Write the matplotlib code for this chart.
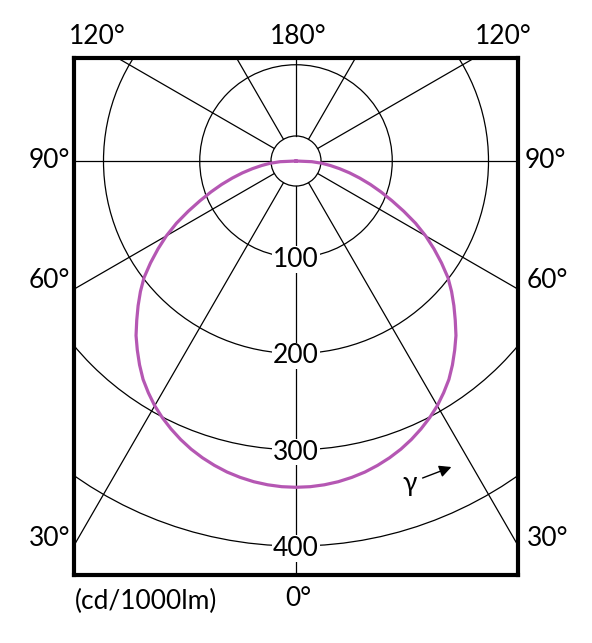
import numpy as np
import matplotlib.pyplot as plt
from matplotlib.patches import Circle

plt.rcParams['font.family'] = ['Lato', 'DejaVu Sans']

# luminous intensity distribution (cd/1000lm), gamma measured from nadir
gamma = [0, 2.5, 5, 7.5, 10, 12.5, 15, 17.5, 20, 22.5, 25, 27.5, 30, 32.5, 35, 37.5,
         40, 42.5, 45, 47.5, 50, 52.5, 55, 57.5, 60, 62.5, 65, 67.5, 70, 72.5, 75,
         77.5, 80, 82.5, 85, 87.5, 90]
intensity = [339, 338.7, 337.7, 336.1, 333.8, 331, 327.4, 323.3, 318.6, 313.2, 307.2,
             300.7, 293.6, 285.5, 277, 267, 256.5, 246, 234, 222.5, 211, 199, 184.5,
             170, 155.5, 140, 123.5, 108, 94, 81, 68.5, 57, 46, 36, 27, 16.5, 0]

rings = [100, 200, 300, 400]
ring_labels = ['100', '200', '300', '400']
spokes = [0, 30, 60, 90, 120, 150, 180]

W, H = 592, 643
px_per_cd = 0.9625
hole = 26    # radius of centre circle, cd

def fpos(x, y):   # pixel -> figure fraction
    return x / W, 1 - y / H

fig = plt.figure(figsize=(W / 100, H / 100), dpi=100)
ax = fig.add_axes([74 / W, 1 - 575 / H, 444 / W, 517 / H])
ax.set_xlim(-222 / px_per_cd, 222 / px_per_cd)
ax.set_ylim(-414 / px_per_cd, 103 / px_per_cd)
ax.set_xticks([])
ax.set_yticks([])
for s in ax.spines.values():
    s.set_linewidth(3)
    s.set_color('black')

# grid circles
ax.add_patch(Circle((0, 0), hole, fill=False, lw=0.9, color='black'))
for r in rings:
    ax.add_patch(Circle((0, 0), r, fill=False, lw=0.9, color='black'))

# radial lines
for a in spokes:
    t = np.radians(a)
    for side in ([-1, 1] if 0 < a < 180 else [1]):
        rr = np.array([hole, 900])
        ax.plot(side * rr * np.sin(t), -rr * np.cos(t), color='black', lw=0.9)

# ring labels on the 0 deg line
for r, lab in zip(rings, ring_labels):
    ax.text(0, -r - 2.5, lab, ha='center', va='center', fontsize=19, zorder=5,
            bbox=dict(facecolor='white', edgecolor='none', pad=0.5))

# the curve, mirrored on both sides
g = np.radians(gamma)
I = np.array(intensity, dtype=float)
xl = -I * np.sin(g)
yl = -I * np.cos(g)
x = np.concatenate([xl[::-1], -xl[1:]])
y = np.concatenate([yl[::-1], yl[1:]])
ax.plot(x, y, color='#b557b3', lw=2.3, zorder=4, solid_joinstyle='round')

# angle labels around the frame
fs = 19
fig.text(*fpos(97, 36), '120°', ha='center', va='center', fontsize=fs)
fig.text(*fpos(298, 36), '180°', ha='center', va='center', fontsize=fs)
fig.text(*fpos(503, 36), '120°', ha='center', va='center', fontsize=fs)
fig.text(*fpos(70, 160), '90°', ha='right', va='center', fontsize=fs)
fig.text(*fpos(525, 160), '90°', ha='left', va='center', fontsize=fs)
fig.text(*fpos(70, 280), '60°', ha='right', va='center', fontsize=fs)
fig.text(*fpos(527, 280), '60°', ha='left', va='center', fontsize=fs)
fig.text(*fpos(70, 538), '30°', ha='right', va='center', fontsize=fs)
fig.text(*fpos(527, 538), '30°', ha='left', va='center', fontsize=fs)
fig.text(*fpos(298, 599), '0°', ha='center', va='center', fontsize=fs)
fig.text(*fpos(75, 601), '(cd/1000lm)', ha='left', va='center', fontsize=fs)

# gamma direction arrow
fig.text(*fpos(410, 484), 'γ', ha='center', va='center', fontsize=fs)
ax.annotate('', xy=fpos(454, 466), xytext=fpos(420, 479),
            xycoords='figure fraction', textcoords='figure fraction',
            arrowprops=dict(arrowstyle='-|>', color='black', lw=1, mutation_scale=18))

fig.savefig('out.png', dpi=100)
